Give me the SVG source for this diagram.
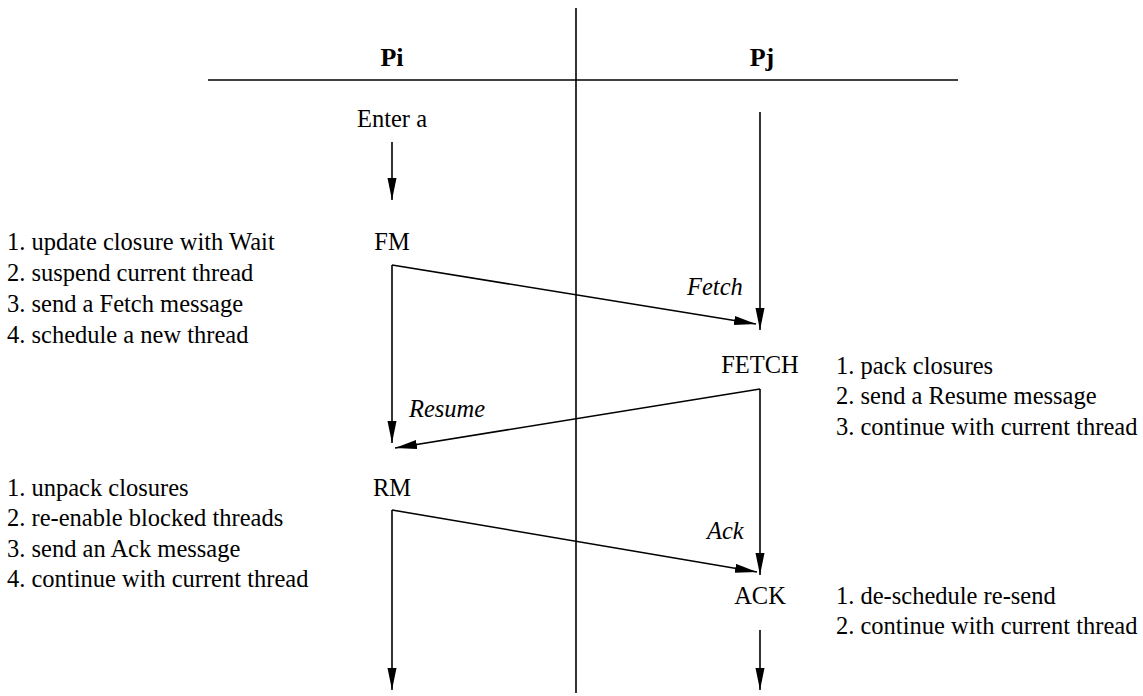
<svg xmlns="http://www.w3.org/2000/svg" width="1143" height="696" viewBox="0 0 1143 696">
  <style>
    text { font-family: 'Liberation Serif', 'DejaVu Serif', serif; fill: #000; }
    .t { font-size: 24.5px; }
    .mid { text-anchor: middle; }
    .it { font-style: italic; }
    .hd { font-size: 26px; font-weight: bold; text-anchor: middle; }
    .ln { stroke: #000; stroke-width: 1.6; fill: none; }
  </style>
  <defs>
    <marker id="arrow" markerUnits="userSpaceOnUse" markerWidth="24" markerHeight="10" refX="22" refY="4.5" orient="auto">
      <path d="M0,0 L22,4.5 L0,9 Z" fill="#000"/>
    </marker>
  </defs>

  <rect width="1143" height="696" fill="#fff"/>

  <!-- frame: process columns -->
  <g id="frame">
    <line class="ln" x1="208" y1="80" x2="958" y2="80"/>
    <line class="ln" x1="576" y1="8" x2="576" y2="693"/>
    <text class="hd" x="392" y="66">Pi</text>
    <text class="hd" x="762" y="66">Pj</text>
  </g>

  <!-- connectors -->
  <g id="connectors">
    <line class="ln" x1="392" y1="142" x2="392" y2="200" marker-end="url(#arrow)"/>
    <line class="ln" x1="760" y1="112" x2="760" y2="330" marker-end="url(#arrow)"/>
    <line class="ln" x1="392" y1="265" x2="392" y2="443" marker-end="url(#arrow)"/>
    <line class="ln" x1="392" y1="265" x2="756" y2="324" marker-end="url(#arrow)"/>
    <line class="ln" x1="760" y1="389" x2="760" y2="575" marker-end="url(#arrow)"/>
    <line class="ln" x1="760" y1="389" x2="395" y2="448" marker-end="url(#arrow)"/>
    <line class="ln" x1="392" y1="510" x2="392" y2="690" marker-end="url(#arrow)"/>
    <line class="ln" x1="392" y1="510" x2="757" y2="572" marker-end="url(#arrow)"/>
    <line class="ln" x1="760" y1="630" x2="760" y2="690" marker-end="url(#arrow)"/>
    <text class="t it" x="687" y="295">Fetch</text>
    <text class="t it" x="409" y="417">Resume</text>
    <text class="t it" x="707" y="539">Ack</text>
  </g>

  <g id="enter">
    <text class="t mid" x="392" y="127">Enter a</text>
  </g>

  <g id="fm">
    <text class="t mid" x="392" y="250">FM</text>
    <text class="t" x="7" y="250">1. update closure with Wait</text>
    <text class="t" x="7" y="281">2. suspend current thread</text>
    <text class="t" x="7" y="312">3. send a Fetch message</text>
    <text class="t" x="7" y="343">4. schedule a new thread</text>
  </g>

  <g id="fetch">
    <text class="t mid" x="760" y="373">FETCH</text>
    <text class="t" x="836" y="374">1. pack closures</text>
    <text class="t" x="836" y="404">2. send a Resume message</text>
    <text class="t" x="836" y="435">3. continue with current thread</text>
  </g>

  <g id="rm">
    <text class="t mid" x="392" y="496">RM</text>
    <text class="t" x="7" y="496">1. unpack closures</text>
    <text class="t" x="7" y="526">2. re-enable blocked threads</text>
    <text class="t" x="7" y="557">3. send an Ack message</text>
    <text class="t" x="7" y="587">4. continue with current thread</text>
  </g>

  <g id="ack">
    <text class="t mid" x="760" y="604">ACK</text>
    <text class="t" x="836" y="604">1. de-schedule re-send</text>
    <text class="t" x="836" y="634">2. continue with current thread</text>
  </g>
</svg>
